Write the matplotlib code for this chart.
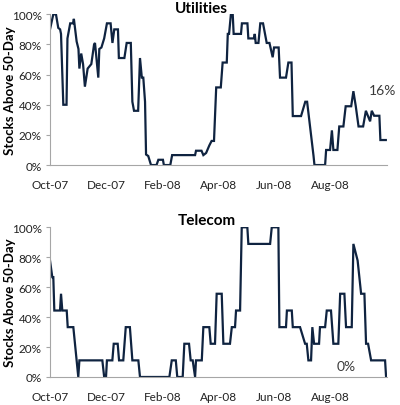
import numpy as np
import pandas as pd
import matplotlib
matplotlib.use("Agg")
import matplotlib.pyplot as plt
import matplotlib.dates as mdates
from matplotlib.ticker import PercentFormatter

start = pd.Timestamp("2007-10-01")
tick_months = ["2007-10-01", "2007-12-01", "2008-02-01", "2008-04-01", "2008-06-01", "2008-08-01"]

# days since 2007-10-01, % of stocks above 50-day average
util_days = [0, 3.6, 6.5, 9, 11, 12, 14.5, 18, 19, 22, 25, 26, 29, 31, 32, 34, 36, 38, 41, 45,
             48, 49, 52.6, 53.7, 56, 59, 62, 66, 68, 70, 74, 75, 81, 83.5, 88, 89.7, 91.5, 96,
             98, 100, 101.6, 103.5, 104.6, 107, 110, 116, 118, 123, 124, 131, 133, 158, 159,
             165, 167, 170, 173.5, 176, 178.6, 181, 186, 188, 192.5, 193.6, 195, 197, 199, 200,
             208, 209, 215, 216, 222, 223, 224, 227, 229, 232, 236, 239, 242.5, 244, 249, 250.5,
             257, 259.6, 263, 264.4, 273.4, 278, 280, 287, 288, 299.6, 300.7, 305, 307, 308.6,
             313, 315, 319.5, 322, 328, 330.4, 333, 336, 341, 344, 348.6, 350.4, 353, 358.7,
             359.8, 365.7]
util_vals = [90, 100, 100, 91, 90, 87, 40, 40, 84, 94, 94, 97, 82, 77, 64, 74, 67, 52, 64, 67,
             80, 81, 58, 77, 78, 84, 94, 94, 81, 90, 90, 71, 71, 81, 81, 42, 36, 36,
             71, 58, 58, 42, 7, 6, 0, 0, 3.5, 3.5, 0, 0, 6.6, 6.6, 9.5,
             9.5, 6.6, 8, 13, 16, 16, 51.5, 51.5, 68, 68, 87, 87, 100, 100, 87,
             87, 94, 94, 84, 84, 87, 81, 81, 94, 94, 81, 81, 71.5, 78, 78, 58,
             58, 68, 68, 32.5, 32.5, 42, 42, 6, 0, 0, 10, 10, 23, 10,
             10, 25.6, 25.6, 39, 39, 49, 39, 25.6, 25.6, 36, 29, 36, 32.7, 32.7,
             16.6, 16.6]

tele_days = [0, 2.5, 3.6, 4.7, 10.9, 12, 13.4, 18.2, 19.3, 25.4, 27.2, 30.8, 32, 57, 59, 61,
             62, 67.9, 69.4, 73.7, 75.2, 79.8, 82.5, 87, 89.7, 96.2, 98, 130, 132.6, 137,
             138.6, 144.5, 146.3, 151.4, 153.2, 155.4, 158, 159, 165.3, 167, 173.5, 175,
             179.7, 181.5, 187, 188.8, 196, 198, 201.5, 202.6, 207, 208.8, 214.9, 216,
             239.7, 241.5, 248.7, 249.8, 257, 258, 263.3, 264.4, 272.3, 277.8, 279.6,
             281.4, 284.3, 285.7, 287.6, 293, 294, 299.6, 301.4, 306, 308.6, 314, 316,
             320.6, 322.4, 328.6, 330.4, 335, 338.8, 342.4, 344.2, 346.4, 349.7, 364.9, 366]
tele_vals = [77.8, 66.7, 66.7, 44.4, 44.4, 55.6, 44.4, 44.4, 33.3, 33.3, 22.2, 0, 11.1, 11.1, 0, 0,
             11.1, 11.1, 22.2, 22.2, 11.1, 11.1, 33.3, 33.3, 11.1, 11.1, 0, 0, 11.1, 11.1,
             0, 0, 22.2, 22.2, 11.1, 11.1, 0, 11.1, 11.1, 33.3, 33.3, 22.2,
             22.2, 55.6, 55.6, 22.2, 22.2, 33.3, 33.3, 44.4, 44.4, 100, 100, 88.9,
             88.9, 100, 100, 33.3, 33.3, 44.4, 44.4, 33.3, 33.3, 22.2, 22.2,
             11.1, 11.1, 33.3, 22.2, 22.2, 33.3, 33.3, 44.4, 44.4, 22.2, 22.2, 55.6,
             55.6, 33.3, 33.3, 88.9, 77.8, 55.6, 55.6, 22.2, 22.2, 11.1, 11.1, 0]

plt.rcParams['font.family'] = ['Lato', 'DejaVu Sans']

line_col = '#0f2340'
spine_col = '#a6a6a6'

fig = plt.figure(figsize=(4, 4.06), dpi=100)
ax1 = fig.add_axes([0.125, 0.591, 0.8425, 0.3713])
ax2 = fig.add_axes([0.125, 0.069, 0.8425, 0.3687])


def style(ax, days, vals):
    x = start + pd.to_timedelta(days, unit='D')
    ax.plot(x, vals, color=line_col, lw=1.6, solid_joinstyle='miter')
    ax.set_xlim(start, pd.Timestamp("2008-10-02"))
    ax.set_ylim(0, 100)
    ax.set_yticks(np.arange(0, 101, 20))
    ax.yaxis.set_major_formatter(PercentFormatter(decimals=0))
    ax.set_xticks(pd.to_datetime(tick_months))
    ax.xaxis.set_major_formatter(mdates.DateFormatter('%b-%y'))
    for s in ['top', 'right']:
        ax.spines[s].set_visible(False)
    for s in ['left', 'bottom']:
        ax.spines[s].set_color(spine_col)
        ax.spines[s].set_linewidth(0.8)
    ax.tick_params(axis='y', length=3, color=spine_col, labelsize=8.5, pad=3, labelcolor='#222222')
    ax.tick_params(axis='x', length=0, labelsize=8.5, pad=10, labelcolor='#222222')
    ax.set_ylabel('Stocks Above 50-Day', fontsize=9.5, fontweight='bold')
    ax.yaxis.set_label_coords(-0.1, 0.5)


style(ax1, util_days, util_vals)
style(ax2, tele_days, tele_vals)

fig.text(201 / 400, 1 - 9 / 406, 'Utilities', ha='center', va='center', fontsize=11, fontweight='bold')
fig.text(207 / 400, 1 - 221 / 406, 'Telecom', ha='center', va='center', fontsize=11, fontweight='bold')

fig.text(383 / 400, 1 - 91 / 406, '16%', ha='center', va='center', fontsize=10, color='#3b3b3b')
fig.text(346 / 400, 1 - 367 / 406, '0%', ha='center', va='center', fontsize=10, color='#3b3b3b')

fig.savefig('out.png', dpi=100)
